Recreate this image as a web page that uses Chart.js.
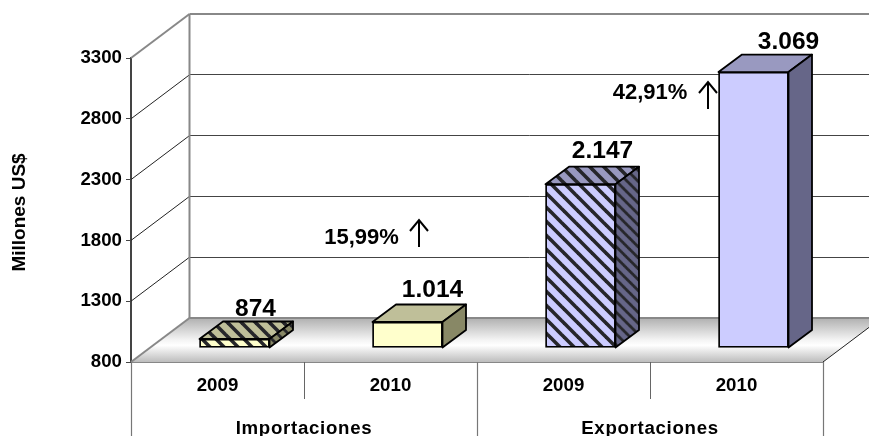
<!DOCTYPE html>
<html><head><meta charset="utf-8">
<style>html,body{margin:0;padding:0;background:#fff;overflow:hidden}canvas{display:block}</style>
<script src="https://cdn.jsdelivr.net/npm/chart.js@4/dist/chart.umd.min.js"></script>
</head><body><canvas id="c" width="869" height="436"></canvas>
<script>
const categories = ['2009','2010','2009','2010'];
const groups = ['Importaciones','Exportaciones'];
const values = [874,1014,2147,3069];
const valueLabels = ['874','1.014','2.147','3.069'];
const growthLabels = ['15,99%','42,91%'];
const yTitle = 'Millones US$';
const yMin = 800, yMax = 3300, yStep = 500;

const FONT = '"Liberation Sans", Arial, sans-serif';
const WALL_DX = 58.5, WALL_DY = 44;       // wall depth
const BAR_FX = 17, BAR_FY = 14;           // bar sits this far into the floor
const BAR_DX = 23.5, BAR_DY = 17.5;       // bar depth

function hatch(bg, scale){
  const n = 14, s = document.createElement('canvas');
  s.width = s.height = n;
  const g = s.getContext('2d');
  g.fillStyle = bg; g.fillRect(0,0,n,n);
  g.strokeStyle = '#26262a'; g.lineWidth = 3.6; g.lineCap='square';
  for (const o of [-n,0,n]) { g.beginPath(); g.moveTo(o,0); g.lineTo(o+n,n); g.stroke(); }
  const p = g.createPattern(s,'repeat');
  if (scale) p.setTransform(new DOMMatrix().scale(scale));
  return p;
}
const fronts = [hatch('#FFFFCC'),'#FFFFCC',hatch('#CCCCFF'),'#CCCCFF'];
const tops   = [hatch('#BFBF99'),'#BFBF99',hatch('#9999C0'),'#9999C0'];
const sides  = [hatch('#888866',.78),'#888866',hatch('#666688',.78),'#666688'];

class Bar3D extends Chart.BarController {
  draw(){
    const ctx = this.chart.ctx;
    const els = this._cachedMeta.data;
    ctx.save();
    ctx.translate(BAR_FX,-BAR_FY);
    ctx.lineWidth = 1.8; ctx.strokeStyle = '#000'; ctx.lineJoin = 'round';
    els.forEach((el,i)=>{
      const l = el.x-el.width/2, r = el.x+el.width/2, t = el.y, b = el.base;
      const face = (pts,fill)=>{
        ctx.beginPath(); pts.forEach((p,k)=>k?ctx.lineTo(p[0],p[1]):ctx.moveTo(p[0],p[1]));
        ctx.closePath(); ctx.fillStyle = fill; ctx.fill(); ctx.stroke();
      };
      face([[l,t],[l+BAR_DX,t-BAR_DY],[r+BAR_DX,t-BAR_DY],[r,t]],tops[i]);
      face([[r,t],[r+BAR_DX,t-BAR_DY],[r+BAR_DX,b-BAR_DY],[r,b]],sides[i]);
    });
    super.draw();
    ctx.restore();
  }
}
Bar3D.id = 'bar3d';
Bar3D.defaults = Chart.BarController.defaults;
Bar3D.overrides = Chart.BarController.overrides;
Chart.register(Bar3D);

const walls = {
  id:'walls',
  beforeDatasetsDraw(chart){
    const {ctx, scales:{x,y}, chartArea:a, width, height} = chart;
    const L = a.left, R = a.right, B = y.getPixelForValue(yMin), T = y.getPixelForValue(yMax);
    const bx = L+WALL_DX;
    const line = (x1,y1,x2,y2,c,w)=>{ctx.beginPath();ctx.moveTo(x1,y1);ctx.lineTo(x2,y2);ctx.strokeStyle=c;ctx.lineWidth=w;ctx.stroke();};
    ctx.save();
    // floor
    const g = ctx.createLinearGradient(0,B-WALL_DY,0,B);
    g.addColorStop(0,'#b0b0b0'); g.addColorStop(.5,'#f4f4f4'); g.addColorStop(.62,'#ffffff'); g.addColorStop(1,'#bdbdbd');
    ctx.beginPath(); ctx.moveTo(L,B); ctx.lineTo(bx,B-WALL_DY); ctx.lineTo(R+WALL_DX,B-WALL_DY); ctx.lineTo(R,B); ctx.closePath();
    ctx.fillStyle = g; ctx.fill();
    // grid on back and side walls
    y.ticks.forEach(t=>{
      const p = y.getPixelForValue(t.value);
      if (t.value===yMin || t.value===yMax) return;
      line(L,p,bx,p-WALL_DY,'#222',1);
      const q = Math.floor(p-WALL_DY)+.5;
      line(bx,q,width,q,'#444',1);
    });
    // frame
    line(bx,T-WALL_DY,width,T-WALL_DY,'#888',2);
    line(bx,T-WALL_DY,bx,B-WALL_DY,'#888',2);
    line(L,T,bx,T-WALL_DY,'#888',2);
    line(L,B,bx,B-WALL_DY,'#888',2);
    line(bx,B-WALL_DY,width,B-WALL_DY,'#888',2);
    line(R,B,R+WALL_DX,B-WALL_DY,'#222',1);
    // multi-level category separators
    const half = (x.getPixelForValue(1)-x.getPixelForValue(0))/2;
    [-.5,1.5,3.5].forEach(v=>{
      const p = Math.round(x.getPixelForValue(0)+(v*2)*half)+.5;
      line(p,B,p,height,'#777',1.2);
    });
    ctx.restore();
  },
  afterDatasetsDraw(chart){
    const {ctx, scales:{x,y}, chartArea:a} = chart;
    ctx.save();
    ctx.fillStyle='#000'; ctx.textAlign='center'; ctx.textBaseline='alphabetic';
    // value labels
    ctx.font = 'bold 24.5px '+FONT;
    const lx = [21,25,22,35], ly = [23,25,26,23];
    valueLabels.forEach((s,i)=>{
      ctx.fillText(s, x.getPixelForValue(i)+BAR_FX+lx[i], y.getPixelForValue(values[i])-BAR_FY-ly[i]);
    });
    // growth annotations
    ctx.font = 'bold 22px '+FONT;
    const notes = [[361.5,244,419,219,247],[650,99,708,81,109]];
    notes.forEach((n,i)=>{
      ctx.fillText(growthLabels[i],n[0],n[1]);
      ctx.strokeStyle='#000'; ctx.lineWidth=2; ctx.lineJoin='miter';
      ctx.beginPath(); ctx.moveTo(n[2],n[4]); ctx.lineTo(n[2],n[3]+1);
      ctx.moveTo(n[2]-9,n[3]+12); ctx.lineTo(n[2],n[3]+1); ctx.lineTo(n[2]+9,n[3]+12); ctx.stroke();
    });
    // y axis title
    ctx.save();
    ctx.translate(20,212.5); ctx.rotate(-Math.PI/2);
    ctx.textBaseline='middle';
    ctx.font = 'bold 19px '+FONT;
    ctx.fillText(yTitle,0,0);
    ctx.restore();
    // group labels
    ctx.font = 'bold 18.67px '+FONT;
    if ('letterSpacing' in ctx) ctx.letterSpacing='0.7px';
    groups.forEach((s,i)=>{
      const c = (x.getPixelForValue(i*2)+x.getPixelForValue(i*2+1))/2;
      ctx.fillText(s,c,434);
    });
    ctx.restore();
  }
};

new Chart(document.getElementById('c'),{
  type:'bar3d',
  data:{labels:categories,datasets:[{
    data:values,
    base:yMin,
    backgroundColor:fronts,
    borderColor:'#000',
    borderWidth:1.8,
    borderSkipped:false,
    barThickness:70,
    clip:false
  }]},
  options:{
    responsive:false,animation:false,
    layout:{padding:{left:0,top:58,right:46,bottom:0}},
    plugins:{legend:{display:false},tooltip:{enabled:false},title:{display:false}},
    scales:{
      x:{type:'category',offset:true,
        afterFit(s){s.height=74;},
        border:{color:'#111',width:1.5},
        grid:{offset:true,drawOnChartArea:false,drawTicks:true,tickLength:37,color:'#666',lineWidth:1},
        ticks:{color:'#000',font:{family:FONT,weight:'bold',size:18.67},padding:-24,maxRotation:0,autoSkip:false}
      },
      y:{type:'linear',min:yMin,max:yMax,
        afterFit(s){s.width=131;},
        border:{color:'#444',width:2},
        grid:{drawOnChartArea:false,drawTicks:true,tickLength:5,color:'#444',lineWidth:1},
        ticks:{stepSize:yStep,color:'#000',font:{family:FONT,weight:'bold',size:18.67},padding:4,autoSkip:false,callback:v=>String(v)}
      }
    }
  },
  plugins:[walls]
});
</script></body></html>
